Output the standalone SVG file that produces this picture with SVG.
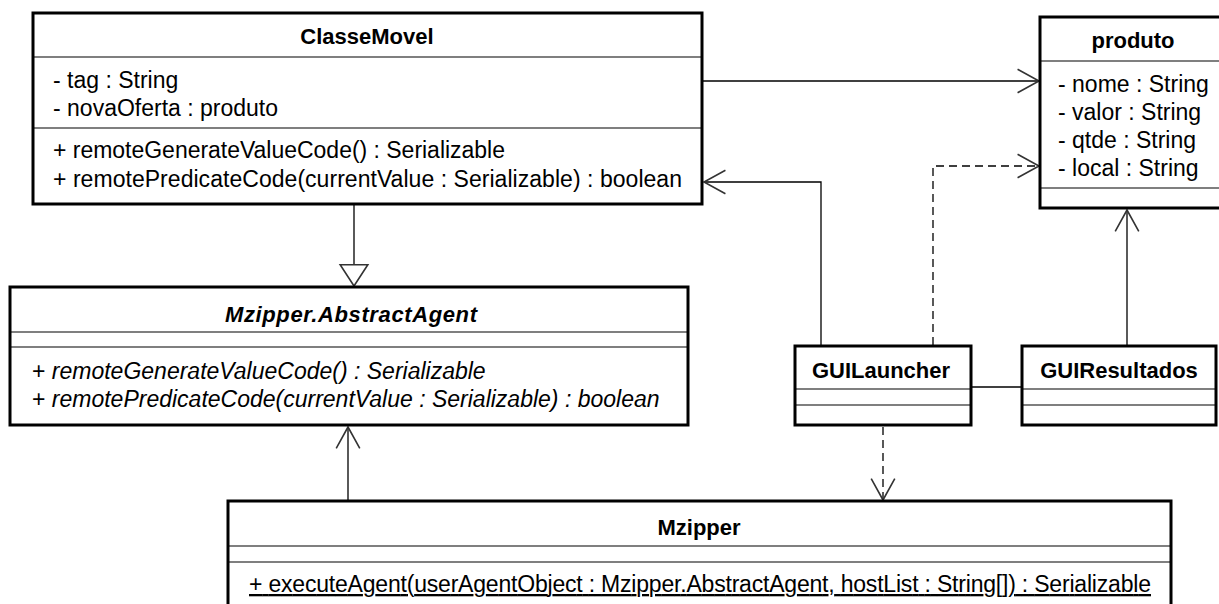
<svg xmlns="http://www.w3.org/2000/svg" width="1219" height="604" viewBox="0 0 1219 604">
  <style>
    .box { fill: #fff; stroke: #000; stroke-width: 3; }
    .sep { stroke: #000; stroke-width: 1.2; fill: none; }
    .title { font-family: "Liberation Sans", Arial, sans-serif; font-size: 22px; font-weight: bold; fill: #000; text-anchor: middle; }
    .abs { font-style: italic; }
    .txt { font-family: "Liberation Sans", Arial, sans-serif; font-size: 23px; fill: #000; }
    .it { font-style: italic; }
    .edge { fill: none; stroke: #000; stroke-width: 1.3; }
    .dash { stroke-dasharray: 8 5; }
  </style>
  <defs>
    <marker id="open" markerUnits="userSpaceOnUse" markerWidth="30" markerHeight="30" viewBox="-22 -14 26 28" refX="0" refY="0" orient="auto">
      <path d="M-20,-11 L0,0 L-20,11" fill="none" stroke="#333" stroke-width="1.5"/>
    </marker>
    <marker id="gen" markerUnits="userSpaceOnUse" markerWidth="30" markerHeight="34" viewBox="-22 -16 26 32" refX="0" refY="0" orient="auto">
      <path d="M-20,-13 L0,0 L-20,13 Z" fill="#fff" stroke="#333" stroke-width="1.5"/>
    </marker>
  </defs>

  <!-- connectors -->
  <g id="connectors">
    <path class="edge" d="M702,81 H1039" marker-end="url(#open)"/>
    <path class="edge" d="M821,345 V182 H704" marker-end="url(#open)"/>
    <path class="edge dash" d="M933,345 V166 H1039" marker-end="url(#open)"/>
    <path class="edge" d="M971,387 H1022"/>
    <path class="edge" d="M1127,345 V210" marker-end="url(#open)"/>
    <path class="edge" d="M354,205 V286" marker-end="url(#gen)"/>
    <path class="edge" d="M348,500 V427" marker-end="url(#open)"/>
    <path class="edge dash" d="M883,427 V500" marker-end="url(#open)"/>
  </g>

  <g id="ClasseMovel">
    <rect class="box" x="33" y="13" width="669" height="191"/>
    <line class="sep" x1="33" y1="57" x2="702" y2="57"/>
    <line class="sep" x1="33" y1="128" x2="702" y2="128"/>
    <text class="title" x="367" y="44">ClasseMovel</text>
    <text class="txt" x="53" y="88">- tag : String</text>
    <text class="txt" x="53" y="116">- novaOferta : produto</text>
    <text class="txt" x="53" y="158" textLength="452">+ remoteGenerateValueCode() : Serializable</text>
    <text class="txt" x="53" y="187" textLength="629">+ remotePredicateCode(currentValue : Serializable) : boolean</text>
  </g>

  <g id="produto">
    <rect class="box" x="1040" y="17" width="184" height="191"/>
    <line class="sep" x1="1040" y1="61" x2="1224" y2="61"/>
    <line class="sep" x1="1040" y1="188" x2="1224" y2="188"/>
    <text class="title" x="1133" y="48">produto</text>
    <text class="txt" x="1058" y="92">- nome : String</text>
    <text class="txt" x="1058" y="120">- valor : String</text>
    <text class="txt" x="1058" y="148">- qtde : String</text>
    <text class="txt" x="1058" y="176">- local : String</text>
  </g>

  <g id="AbstractAgent">
    <rect class="box" x="10" y="287" width="678" height="138"/>
    <line class="sep" x1="10" y1="332" x2="688" y2="332"/>
    <line class="sep" x1="10" y1="347" x2="688" y2="347"/>
    <text class="title abs" x="351" y="322" textLength="252">Mzipper.AbstractAgent</text>
    <text class="txt" x="32" y="379"><tspan>+ </tspan><tspan class="it">remoteGenerateValueCode() : Serializable</tspan></text>
    <text class="txt" x="32" y="407"><tspan>+ </tspan><tspan class="it">remotePredicateCode(currentValue : Serializable) : boolean</tspan></text>
  </g>

  <g id="GUILauncher">
    <rect class="box" x="795" y="346" width="176" height="79"/>
    <line class="sep" x1="795" y1="389" x2="971" y2="389"/>
    <line class="sep" x1="795" y1="405" x2="971" y2="405"/>
    <text class="title" x="881" y="378">GUILauncher</text>
  </g>

  <g id="GUIResultados">
    <rect class="box" x="1022" y="346" width="194" height="79"/>
    <line class="sep" x1="1022" y1="389" x2="1216" y2="389"/>
    <line class="sep" x1="1022" y1="405" x2="1216" y2="405"/>
    <text class="title" x="1119" y="378">GUIResultados</text>
  </g>

  <g id="Mzipper">
    <rect class="box" x="228" y="501" width="943" height="110"/>
    <line class="sep" x1="228" y1="546" x2="1171" y2="546"/>
    <line class="sep" x1="228" y1="562" x2="1171" y2="562"/>
    <text class="title" x="699" y="535">Mzipper</text>
    <text class="txt" x="249" y="592" textLength="902" text-decoration="underline">+ executeAgent(userAgentObject : Mzipper.AbstractAgent, hostList : String[]) : Serializable</text>
  </g>
</svg>
